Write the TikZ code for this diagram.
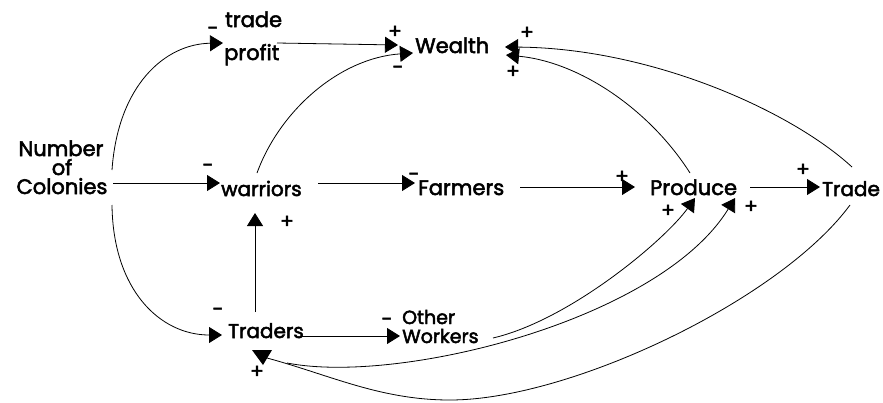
\documentclass[tikz,border=0pt]{standalone}
\usepackage{fontspec}
\setmainfont{Poppins}
\newfontfamily\lblfont{Poppins}[FakeBold=2.5]
\usetikzlibrary{arrows.meta}
\begin{document}
\begin{tikzpicture}[x=1pt,y=-1pt,
  lbl/.style={anchor=base west,inner sep=0pt,font=\lblfont\fontsize{21}{21}\selectfont},
  small/.style={font=\lblfont\fontsize{20}{20}\selectfont},
  sgn/.style={inner sep=0pt,font=\lblfont\fontsize{20}{20}\selectfont},
  link/.style={line width=0.8pt,black},
  arr/.style={link,-{Triangle[length=13pt,width=16pt]}},
]
\useasboundingbox (0,0) rectangle (883,402);
% nodes
\node[lbl,anchor=base] (num) at (61,156) {Number};
\node[lbl,anchor=base] (of) at (62,175) {of};
\node[lbl,anchor=base] (col) at (62,194) {Colonies};
\node[lbl] (tradeL) at (225,27) {trade};
\node[lbl] (profitL) at (224,60) {profit};
\node[lbl] (wealth) at (415,53) {Wealth};
\node[lbl,small] (warriors) at (221,196) {warriors};
\node[lbl] (farmers) at (418,195) {Farmers};
\node[lbl] (produce) at (650,195) {Produce};
\node[lbl,small] (tradeN) at (822,196) {Trade};
\node[lbl,small] (traders) at (228,338) {Traders};
\node[lbl,font=\lblfont\fontsize{19}{19}\selectfont] (otherL) at (402,324) {Other};
\node[lbl,font=\lblfont\fontsize{19}{19}\selectfont] (workersL) at (402,343) {Workers};
% connectors
\draw[arr] ([shift={(50,-5)}]of.base) .. controls (118,85) and (165,44) .. ([shift={(-1,-17)}]profitL.base west);
\draw[arr] ([shift={(53,-17)}]profitL.base west) -- ([shift={(-17,-8)}]wealth.base west);
\draw[arr] ([shift={(51,8)}]of.base) -- ([shift={(-1,-13)}]warriors.base west);
\draw[arr] ([shift={(36,-23)}]warriors.base west) .. controls (280,110) and (340,58) .. ([shift={(-2,0)}]wealth.base west);
\draw[arr] ([shift={(97,-13)}]warriors.base west) -- ([shift={(-3,-12)}]farmers.base west);
\draw[arr] ([shift={(102,-8)}]farmers.base west) -- ([shift={(-15,-8)}]produce.base west);
\draw[arr] ([shift={(100,-8)}]produce.base west) -- ([shift={(-2,-9)}]tradeN.base west);
\draw[arr] ([shift={(27,-26)}]traders.base west) -- ([shift={(34,17)}]warriors.base west);
\draw[arr] ([shift={(50,30)}]of.base) .. controls (113,290) and (160,335) .. ([shift={(-6,-3)}]traders.base west);
\draw[arr] ([shift={(74,-2)}]traders.base west) -- ([shift={(-2,12)}]otherL.base west);
\draw[arr] ([shift={(40,-22)}]produce.base west) .. controls (650,110) and (580,62) .. ([shift={(91,2)}]wealth.base west);
\draw[arr] ([shift={(30,-29)}]tradeN.base west) .. controls (790,110) and (650,48) .. ([shift={(90,-6)}]wealth.base west);
\draw[arr] ([shift={(91,-5)}]workersL.base west) .. controls (570,320) and (665,240) .. ([shift={(45,3)}]produce.base west);
\draw[arr] ([shift={(59,25)}]traders.base west) .. controls (400,385) and (660,320) .. ([shift={(85,3)}]produce.base west);
\draw[link] ([shift={(28,9)}]tradeN.base west) .. controls (780,300) and (570,400) .. (450,400)
  .. controls (380,400) and (330,375) .. ([shift={(39,20)}]traders.base west);
\fill ([shift={(24,12)}]traders.base west) -- ([shift={(44,12)}]traders.base west) -- ([shift={(35,27)}]traders.base west) -- cycle;
% signs
\node[sgn] (s1) at (213,31) {-};
\node[sgn] (s2) at (395,32) {+};
\node[sgn] (s3) at (398,70) {-};
\node[sgn] (s4) at (527,33) {+};
\node[sgn] (s5) at (513,72) {+};
\node[sgn] (s6) at (208,168) {-};
\node[sgn] (s7) at (414,177) {-};
\node[sgn] (s8) at (622,177) {+};
\node[sgn] (s9) at (803,170) {+};
\node[sgn] (s10) at (287,222) {+};
\node[sgn] (s11) at (218,312) {-};
\node[sgn] (s12) at (387,322) {-};
\node[sgn] (s13) at (668,211) {+};
\node[sgn] (s14) at (751,207) {+};
\node[sgn] (s15) at (257,372) {+};
\end{tikzpicture}
\end{document}
